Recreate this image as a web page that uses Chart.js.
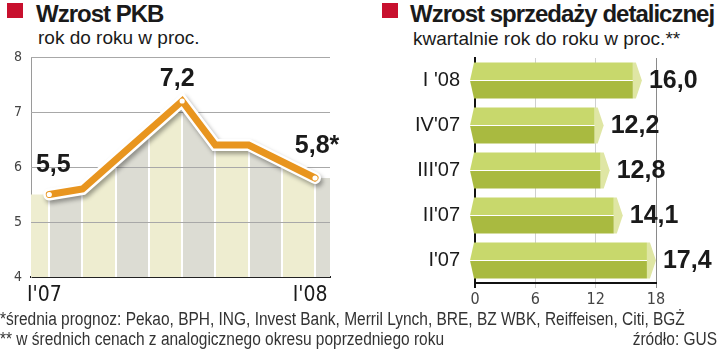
<!DOCTYPE html>
<html>
<head>
<meta charset="utf-8">
<script src="https://cdn.jsdelivr.net/npm/chart.js@4.4.1/dist/chart.umd.min.js"></script>
<style>
  body { margin: 0; width: 720px; height: 350px; position: relative; background: #fff; overflow: hidden; }
  .sq { position: absolute; width: 16px; height: 15px; background: #c8102e; top: 3px; }
  .title { position: absolute; top: 2px; font: bold 24px/1 "Liberation Sans", Arial, sans-serif; letter-spacing: -1px; color: #1a1a1a; white-space: nowrap; }
  .sub { position: absolute; top: 28px; font: 19px/1 "Liberation Sans", Arial, sans-serif; color: #1a1a1a; white-space: nowrap; }
  .note { position: absolute; font: 18px/20px "Liberation Sans", Arial, sans-serif; color: #333; white-space: nowrap; transform: scaleX(0.86); transform-origin: 0 0; }
  .note.r { transform-origin: 100% 0; }
  canvas { position: absolute; top: 0; }
</style>
</head>
<body>
<div class="sq" style="left:7px"></div>
<div class="title" style="left:36px">Wzrost PKB</div>
<div class="sub" style="left:38px">rok do roku w proc.</div>
<div class="sq" style="left:382px"></div>
<div class="title" style="left:410px">Wzrost sprzedaży detalicznej</div>
<div class="sub" style="left:413px;top:29px">kwartalnie rok do roku w proc.**</div>

<div style="position:absolute;left:0;top:0;width:350px;height:310px"><canvas id="gdpChart"></canvas></div>
<div style="position:absolute;left:360px;top:0;width:360px;height:310px"><canvas id="salesChart"></canvas></div>

<div class="note" style="left:0;top:309px">*średnia prognoz: Pekao, BPH, ING, Invest Bank, Merril Lynch, BRE, BZ WBK, Reiffeisen, Citi, BGŻ</div>
<div class="note" style="left:0;top:329px">** w średnich cenach z analogicznego okresu poprzedniego roku</div>
<div class="note r" style="right:3px;top:329px">źródło: GUS</div>

<script>
(function () {
    'use strict';

    // PKB, rok do roku w proc. (x = position on the time axis)
    var gdpX = [0, 1, 4, 5, 6, 8];
    var gdpValues = [5.5, 5.6, 7.2, 6.4, 6.4, 5.8];
    var gdpLabels = ['5,5', null, '7,2', null, null, '5,8*'];
    var gdpTickValues = [0, 8];
    var gdpTickLabels = ["I'07", "I'08"];

    // sprzedaż detaliczna, kwartalnie
    var salesCategories = ["I '08", "IV'07", "III'07", "II'07", "I'07"];
    var salesValues = [16.0, 12.2, 12.8, 14.1, 17.4];

    var narrow = '"Liberation Sans Narrow", "DejaVu Sans Condensed", sans-serif';
    var boldFont = 'bold 25px "Liberation Sans", Arial, sans-serif';
    var orange = '#e8951f';
    var stripeColors = ['#eeedd0', '#dcdcd3'];

    function points() {
        return gdpX.map(function (x, i) { return { x: x, y: gdpValues[i] }; });
    }

    function stripeFill(context) {
        var chart = context.chart;
        var area = chart.chartArea;
        if (!area) {
            return stripeColors[0];
        }
        var xs = chart.scales.x;
        var w = area.right - area.left;
        var g = chart.ctx.createLinearGradient(area.left, 0, area.right, 0);
        var pos = function (px) { return Math.min(1, Math.max(0, (px - area.left) / w)); };
        var edges = [area.left];
        for (var v = Math.ceil(xs.min); v <= Math.floor(xs.max); v++) {
            edges.push(xs.getPixelForValue(v));
        }
        edges.push(area.right);
        var n = edges.length - 1;
        for (var i = 0; i < n; i++) {
            var c = stripeColors[i % 2];
            var a = i === 0 ? edges[i] : edges[i] + 1;
            var b = i === n - 1 ? edges[i + 1] : edges[i + 1] - 1;
            if (i > 0) {
                g.addColorStop(pos(a), '#fff');
            }
            g.addColorStop(pos(a), c);
            g.addColorStop(pos(b), c);
            if (i < n - 1) {
                g.addColorStop(pos(b), '#fff');
            }
        }
        return g;
    }

    // shadow under the white-edged line, grid redrawn over the striped area
    var lineDecor = {
        id: 'lineDecor',
        beforeDatasetDraw: function (chart, args) {
            if (chart.data.datasets[args.index].shadow) {
                var ctx = chart.ctx;
                ctx.save();
                ctx.shadowColor = 'rgba(0,0,0,0.35)';
                ctx.shadowBlur = 4;
                ctx.shadowOffsetX = 2;
                ctx.shadowOffsetY = 3;
            }
        },
        afterDatasetDraw: function (chart, args) {
            var ds = chart.data.datasets[args.index];
            var ctx = chart.ctx;
            if (ds.shadow) {
                ctx.restore();
            }
            if (ds.fill) {
                var ys = chart.scales.y;
                var area = chart.chartArea;
                ctx.save();
                ctx.strokeStyle = '#a8a8a8';
                ctx.lineWidth = 1;
                ys.ticks.forEach(function (t) {
                    var py = Math.round(ys.getPixelForValue(t.value)) + 0.5;
                    if (t.value <= ys.min) return;
                    ctx.beginPath();
                    ctx.moveTo(area.left, py);
                    ctx.lineTo(area.right, py);
                    ctx.stroke();
                });
                ctx.restore();
            }
        }
    };

    var labelShift = { 0: [4, -29], 2: [-5, -22], 5: [2, -32] };

    var gdpValueLabels = {
        id: 'gdpValueLabels',
        afterDatasetsDraw: function (chart) {
            var ctx = chart.ctx;
            var meta = chart.getDatasetMeta(0);
            ctx.save();
            ctx.font = boldFont;
            ctx.fillStyle = '#1a1a1a';
            ctx.textAlign = 'center';
            ctx.textBaseline = 'middle';
            meta.data.forEach(function (pt, i) {
                if (!gdpLabels[i]) {
                    return;
                }
                var s = labelShift[i] || [0, -27];
                ctx.fillText(gdpLabels[i], pt.x + s[0], pt.y + s[1]);
            });
            ctx.restore();
        }
    };

    var xMin = -0.55;
    var xMax = 8.45;

    new Chart(document.getElementById('gdpChart'), {
        type: 'line',
        data: {
            datasets: [
                {
                    data: points(),
                    borderColor: orange,
                    borderWidth: 7,
                    borderJoinStyle: 'miter',
                    borderCapStyle: 'round',
                    pointRadius: function (c) { return gdpLabels[c.dataIndex] ? 2.6 : 0; },
                    pointBackgroundColor: '#fff',
                    pointBorderWidth: 0,
                    order: 0
                },
                {
                    data: points(),
                    borderColor: '#fff',
                    borderWidth: 12,
                    borderJoinStyle: 'miter',
                    borderCapStyle: 'round',
                    pointRadius: 0,
                    shadow: true,
                    order: 1
                },
                {
                    data: [{ x: xMin, y: gdpValues[0] }].concat(points(), [{ x: xMax, y: gdpValues[gdpValues.length - 1] }]),
                    borderWidth: 0,
                    pointRadius: 0,
                    fill: 'start',
                    backgroundColor: stripeFill,
                    order: 2
                }
            ]
        },
        options: {
            responsive: true,
            maintainAspectRatio: false,
            animation: false,
            layout: { padding: { top: 57, right: 20, left: 0, bottom: 0 } },
            plugins: { legend: { display: false }, tooltip: { enabled: false } },
            scales: {
                x: {
                    type: 'linear',
                    min: xMin,
                    max: xMax,
                    afterFit: function (s) { s.height = 33; },
                    afterBuildTicks: function (s) {
                        s.ticks = gdpTickValues.map(function (v) { return { value: v }; });
                    },
                    ticks: {
                        autoSkip: false,
                        maxRotation: 0,
                        padding: 6,
                        labelOffset: -5,
                        color: '#1a1a1a',
                        font: { family: narrow, size: 21 },
                        callback: function (value) {
                            var i = gdpTickValues.indexOf(value);
                            return i >= 0 ? gdpTickLabels[i] : '';
                        }
                    },
                    grid: { display: false, drawTicks: false },
                    border: { color: '#222', width: 2 }
                },
                y: {
                    min: 4,
                    max: 8,
                    afterFit: function (s) { s.width = 31; },
                    ticks: {
                        stepSize: 1,
                        padding: 9,
                        color: '#444',
                        font: { family: narrow, size: 14 }
                    },
                    grid: { color: '#b5b5b5', drawTicks: false },
                    border: { color: '#9a9a9a', width: 1 }
                }
            }
        },
        plugins: [lineDecor, gdpValueLabels]
    });

    var prismBars = {
        id: 'prismBars',
        afterDatasetsDraw: function (chart) {
            var ctx = chart.ctx;
            ctx.save();
            chart.getDatasetMeta(0).data.forEach(function (bar, i) {
                var p = bar.getProps(['x', 'y', 'base', 'height'], true);
                var top = p.y - p.height / 2;
                var bot = p.y + p.height / 2;
                var end = p.x - 3;

                ctx.beginPath();
                ctx.moveTo(p.base - 2, top);
                ctx.lineTo(end, top);
                ctx.lineTo(end, p.y);
                ctx.lineTo(p.base - 6, p.y);
                ctx.closePath();
                ctx.fillStyle = '#c8d86c';
                ctx.fill();

                ctx.beginPath();
                ctx.moveTo(p.base - 6, p.y);
                ctx.lineTo(end, p.y);
                ctx.lineTo(end, bot);
                ctx.lineTo(p.base - 2, bot);
                ctx.closePath();
                ctx.fillStyle = '#a9ba40';
                ctx.fill();

                ctx.beginPath();
                ctx.moveTo(end, top);
                ctx.lineTo(end + 3, top);
                ctx.lineTo(end + 9, p.y);
                ctx.lineTo(end + 3, bot);
                ctx.lineTo(end, bot);
                ctx.closePath();
                ctx.fillStyle = '#dfe6a4';
                ctx.fill();

                ctx.beginPath();
                ctx.moveTo(p.base - 6, p.y);
                ctx.lineTo(end, p.y);
                ctx.strokeStyle = '#fff';
                ctx.lineWidth = 1.2;
                ctx.stroke();

                ctx.font = boldFont;
                ctx.fillStyle = '#1a1a1a';
                ctx.textAlign = 'left';
                ctx.textBaseline = 'middle';
                ctx.fillText(salesValues[i].toFixed(1).replace('.', ','), p.x + 13, p.y + 1);
            });
            ctx.restore();
        }
    };

    new Chart(document.getElementById('salesChart'), {
        type: 'bar',
        data: {
            labels: salesCategories,
            datasets: [{
                data: salesValues,
                backgroundColor: 'rgba(0,0,0,0)',
                borderWidth: 0,
                categoryPercentage: 1,
                barPercentage: 0.8
            }]
        },
        options: {
            indexAxis: 'y',
            responsive: true,
            maintainAspectRatio: false,
            animation: false,
            layout: { padding: { top: 58, right: 64, left: 0, bottom: 0 } },
            plugins: { legend: { display: false }, tooltip: { enabled: false } },
            scales: {
                x: {
                    min: 0,
                    max: 18,
                    afterFit: function (s) { s.height = 25; },
                    ticks: {
                        stepSize: 6,
                        padding: 2,
                        color: '#444',
                        font: { family: narrow, size: 16 }
                    },
                    grid: {
                        tickLength: 5,
                        color: function (c) {
                            if (c.tick && c.tick.value === 0) return '#111';
                            if (c.tick && c.tick.value === 18) return '#8a8a8a';
                            return '#cfcfcf';
                        },
                        lineWidth: function (c) { return c.tick && c.tick.value === 0 ? 2 : 1; }
                    },
                    border: { color: '#111', width: 2 }
                },
                y: {
                    afterFit: function (s) { s.width = 115; },
                    ticks: {
                        padding: 15,
                        color: '#1a1a1a',
                        font: { family: '"Liberation Sans", Arial, sans-serif', size: 20 }
                    },
                    grid: { display: false, drawTicks: false },
                    border: { color: '#111', width: 2 }
                }
            }
        },
        plugins: [prismBars]
    });
})();
</script>
</body>
</html>
